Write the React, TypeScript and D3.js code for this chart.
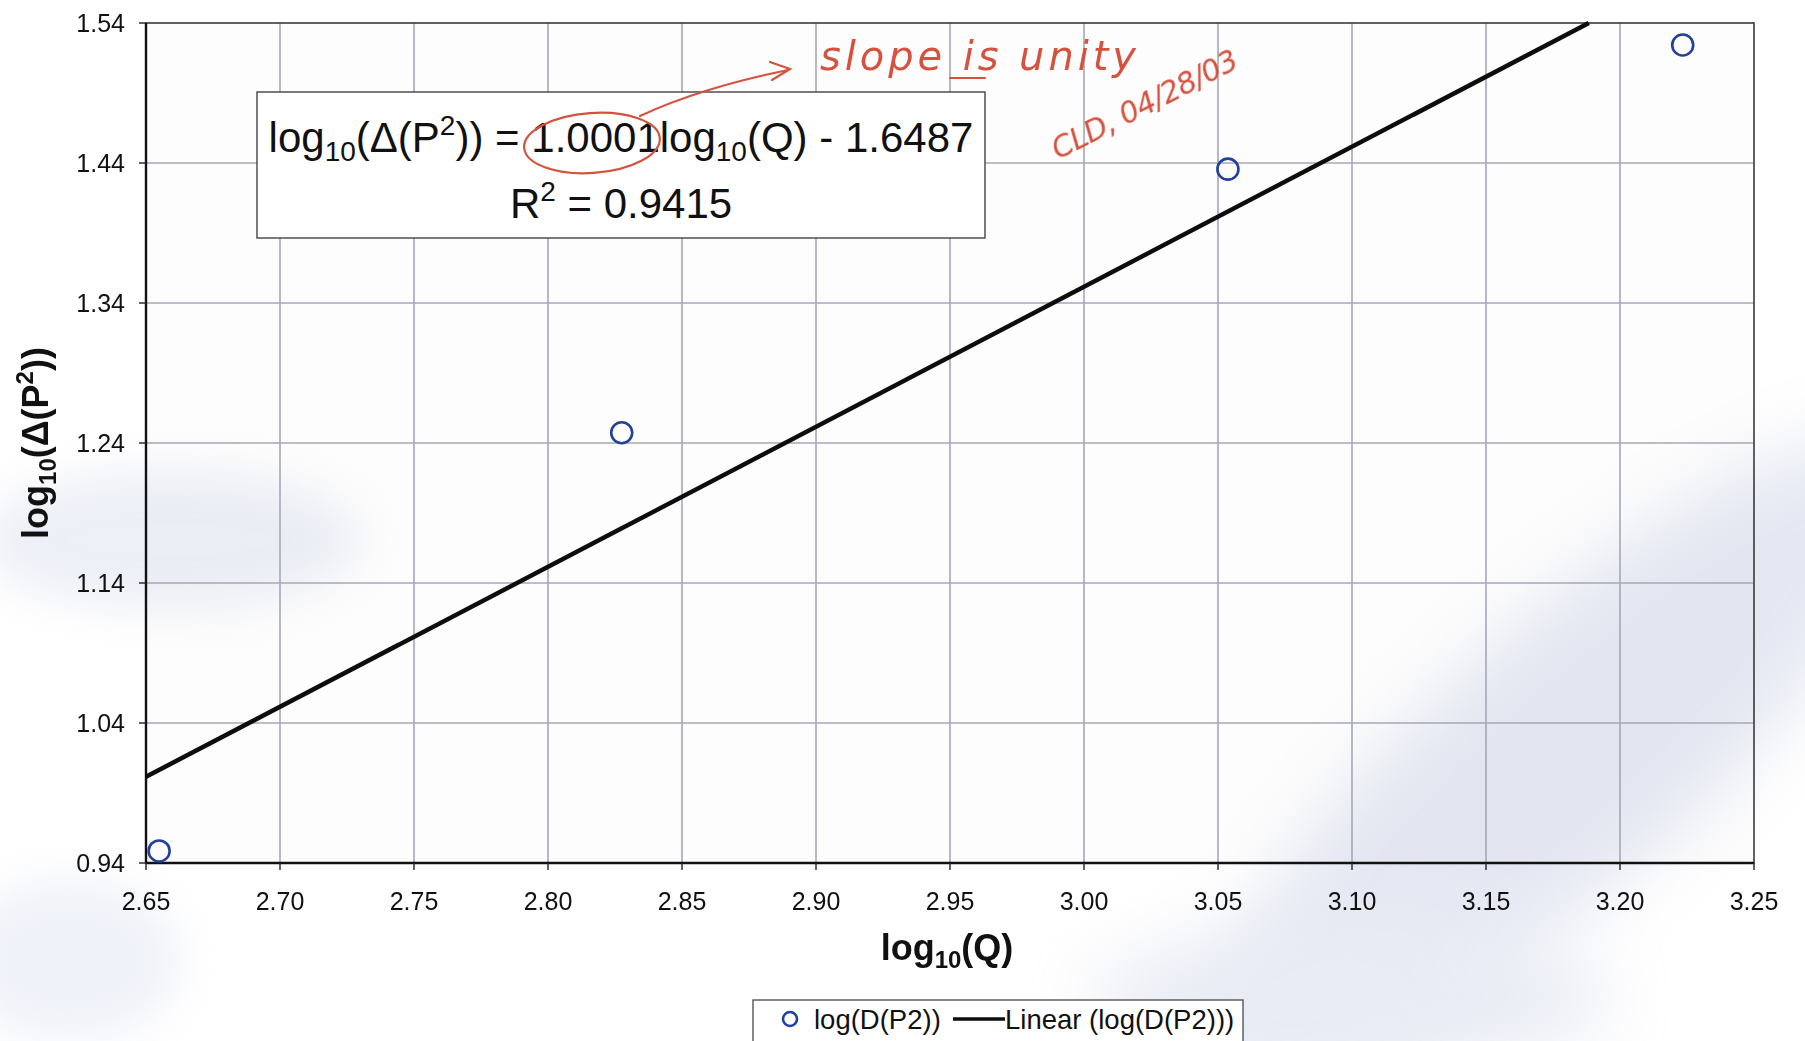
import React from "react";
import * as d3 from "d3";

const xTicks = [2.65, 2.7, 2.75, 2.8, 2.85, 2.9, 2.95, 3.0, 3.05, 3.1, 3.15, 3.2, 3.25];
const yTicks = [0.94, 1.04, 1.14, 1.24, 1.34, 1.44, 1.54];
const logQ = [2.6549, 2.8275, 3.0537, 3.2234];
const logDP2 = [0.9486, 1.2473, 1.4356, 1.5243];
const slope = 1.0001;
const intercept = -1.6487;
const r2 = 0.9415;
const seriesName = "log(D(P2))";
const trendName = "Linear (log(D(P2)))";

const W = 1805;
const H = 1041;
const M = { left: 146, right: 1754, top: 23, bottom: 863 };

export default function App() {
  const x = d3.scaleLinear().domain([2.65, 3.25]).range([M.left, M.right]);
  const y = d3.scaleLinear().domain([0.94, 1.54]).range([M.bottom, M.top]);
  const fmt = d3.format(".2f");

  const x0 = 2.65;
  const xTop = (1.54 - intercept) / slope;
  const x1 = Math.min(3.25, xTop);
  const line = d3
    .line<[number, number]>()
    .x((d) => x(d[0]))
    .y((d) => y(d[1]));
  const trend: [number, number][] = [
    [x0, slope * x0 + intercept],
    [x1, slope * x1 + intercept],
  ];

  const red = "#d5523f";
  const blue = "#23409a";
  const font = "Liberation Sans, Arial, sans-serif";

  return (
    <svg
      width={W}
      height={H}
      style={{ position: "absolute", left: 0, top: 0, display: "block", background: "#ffffff" }}
      fontFamily={font}
    >
      <defs>
        <filter id="blur1" x="-50%" y="-50%" width="200%" height="200%">
          <feGaussianBlur stdDeviation="35" />
        </filter>
        <filter id="blur2" x="-50%" y="-50%" width="200%" height="200%">
          <feGaussianBlur stdDeviation="22" />
        </filter>
      </defs>

      <rect x={M.left} y={M.top} width={M.right - M.left} height={M.bottom - M.top} fill="#fdfdfd" />

      {/* scan smudges */}
      <g opacity={0.3}>
        <ellipse
          cx={1560}
          cy={760}
          rx={460}
          ry={130}
          fill="#a9b2d6"
          transform="rotate(-42 1560 760)"
          filter="url(#blur1)"
        />
        <ellipse cx={1350} cy={1000} rx={260} ry={70} fill="#b8c0dd" filter="url(#blur1)" />
        <ellipse cx={170} cy={540} rx={190} ry={70} fill="#c3cbe4" filter="url(#blur2)" />
        <ellipse cx={70} cy={960} rx={110} ry={80} fill="#ccd3ea" filter="url(#blur2)" />
      </g>

      {/* gridlines */}
      <g stroke="#a4a8b6" strokeWidth={1.6}>
        {xTicks.slice(1, -1).map((t) => (
          <line key={"gx" + t} x1={x(t)} x2={x(t)} y1={M.top} y2={M.bottom} />
        ))}
        {yTicks.slice(1, -1).map((t) => (
          <line key={"gy" + t} x1={M.left} x2={M.right} y1={y(t)} y2={y(t)} />
        ))}
      </g>

      <rect
        x={M.left}
        y={M.top}
        width={M.right - M.left}
        height={M.bottom - M.top}
        fill="none"
        stroke="#3a3a3a"
        strokeWidth={1.6}
      />
      <line x1={M.left} x2={M.left} y1={M.top} y2={M.bottom} stroke="#111" strokeWidth={2.4} />
      <line x1={M.left} x2={M.right} y1={M.bottom} y2={M.bottom} stroke="#111" strokeWidth={2.4} />

      <g stroke="#222" strokeWidth={1.4}>
        {xTicks.map((t) => (
          <line key={"tx" + t} x1={x(t)} x2={x(t)} y1={M.bottom} y2={M.bottom + 7} />
        ))}
        {yTicks.map((t) => (
          <line key={"ty" + t} x1={M.left - 7} x2={M.left} y1={y(t)} y2={y(t)} />
        ))}
      </g>

      <g fontSize={25} fill="#111">
        {xTicks.map((t) => (
          <text key={"lx" + t} x={x(t)} y={M.bottom + 47} textAnchor="middle">
            {fmt(t)}
          </text>
        ))}
        {yTicks.map((t) => (
          <text key={"ly" + t} x={125} y={y(t) + 9} textAnchor="end">
            {fmt(t)}
          </text>
        ))}
      </g>

      <text x={947} y={960} textAnchor="middle" fontSize={36} fontWeight="bold" fill="#111">
        log
        <tspan fontSize={24} dy={8}>10</tspan>
        <tspan dy={-8}>(Q)</tspan>
      </text>
      <text
        transform={`translate(48, ${(M.top + M.bottom) / 2}) rotate(-90)`}
        textAnchor="middle"
        fontSize={36}
        fontWeight="bold"
        fill="#111"
      >
        log
        <tspan fontSize={24} dy={8}>10</tspan>
        <tspan dy={-8}>(Δ(P</tspan>
        <tspan fontSize={24} dy={-15}>2</tspan>
        <tspan dy={15}>))</tspan>
      </text>

      <path d={line(trend) || ""} stroke="#0d0d0d" strokeWidth={4.5} fill="none" />

      {logQ.map((q, i) => (
        <circle key={"p" + i} cx={x(q)} cy={y(logDP2[i])} r={10.5} fill="none" stroke={blue} strokeWidth={2.6} />
      ))}

      <rect x={257} y={92} width={728} height={146} fill="#ffffff" stroke="#444" strokeWidth={1.4} />
      <text x={621} y={152} textAnchor="middle" fontSize={42} fill="#111">
        log
        <tspan fontSize={28} dy={9}>10</tspan>
        <tspan dy={-9}>(Δ(P</tspan>
        <tspan fontSize={28} dy={-17}>2</tspan>
        <tspan dy={17}>{`)) = ${slope.toFixed(4)}log`}</tspan>
        <tspan fontSize={28} dy={9}>10</tspan>
        <tspan dy={-9}>{`(Q) - ${Math.abs(intercept).toFixed(4)}`}</tspan>
      </text>
      <text x={621} y={218} textAnchor="middle" fontSize={42} fill="#111">
        R<tspan fontSize={28} dy={-17}>2</tspan>
        <tspan dy={17}>{` = ${r2.toFixed(4)}`}</tspan>
      </text>

      <g stroke={red} fill="none" strokeWidth={2.2} strokeLinecap="round">
        <ellipse cx={592} cy={143} rx={68} ry={30} transform="rotate(-4 592 143)" />
        <path d="M 640 116 Q 700 88 788 70" />
        <path d="M 770 62 L 790 69 L 772 80" />
        <line x1={950} y1={78} x2={985} y2={78} />
      </g>
      <text x={820} y={70} fontSize={40} fill={red} fontStyle="italic" fontFamily="DejaVu Sans, sans-serif" textLength={316}>
        slope is unity
      </text>
      <text
        transform="translate(1058,160) rotate(-27)"
        fontSize={30}
        fill={red}
        fontStyle="italic"
        fontFamily="DejaVu Sans, sans-serif"
        textLength={205}
      >
        CLD, 04/28/03
      </text>

      {/* legend */}
      <rect x={753} y={1000} width={490} height={44} fill="#ffffff" stroke="#555" strokeWidth={1.4} />
      <circle cx={790} cy={1019} r={7} fill="none" stroke={blue} strokeWidth={2.6} />
      <text x={814} y={1029} fontSize={27.5} fill="#111">
        {seriesName}
      </text>
      <line x1={953} x2={1005} y1={1019} y2={1019} stroke="#0d0d0d" strokeWidth={3.5} />
      <text x={1005} y={1029} fontSize={27.5} fill="#111">
        {trendName}
      </text>
    </svg>
  );
}
